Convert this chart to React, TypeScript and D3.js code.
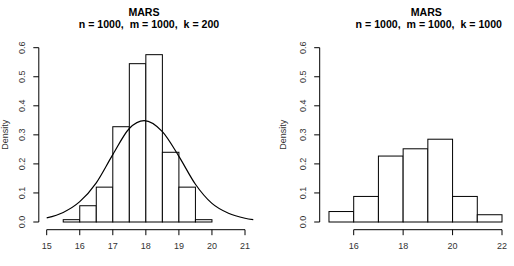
import React from "react";
import * as d3 from "d3";

// ---- data ----
const leftTitle = "MARS";
const leftSubtitle = "n = 1000,  m = 1000,  k = 200";
const rightTitle = "MARS";
const rightSubtitle = "n = 1000,  m = 1000,  k = 1000";
const yLabel = "Density";

const leftBreaks = [15.5, 16, 16.5, 17, 17.5, 18, 18.5, 19, 19.5, 20];
const leftDensity = [0.008, 0.056, 0.12, 0.328, 0.545, 0.576, 0.24, 0.12, 0.008];

const rightBreaks = [15, 16, 17, 18, 19, 20, 21, 22];
const rightDensity = [0.036, 0.088, 0.227, 0.252, 0.285, 0.088, 0.025];

// normal-density curve
const curveX = [15.0, 15.5, 16, 16.5, 17, 17.5, 17.95, 18.5, 19, 19.5, 20, 20.5, 21, 21.25];
const curveY = [0.014, 0.033, 0.07, 0.135, 0.232, 0.322, 0.349, 0.311, 0.226, 0.13, 0.064, 0.03, 0.013, 0.008];

const leftXTicks = [15, 16, 17, 18, 19, 20, 21];
const rightXTicks = [16, 18, 20, 22];
const yTicks = [0, 0.1, 0.2, 0.3, 0.4, 0.5, 0.6];

const FONT = "'Liberation Sans', Arial, Helvetica, sans-serif";

type PanelProps = {
  xScale: d3.ScaleLinear<number, number>;
  yAxisX: number;
  xAxisY: number;
  breaks: number[];
  density: number[];
  xTicks: number[];
  title: string;
  subtitle: string;
  titleX: number;
  subtitleX: number;
  ylabX: number;
  curve?: boolean;
};

const yScale = d3.scaleLinear().domain([0, 0.6]).range([222, 47.7]);

function Panel(p: PanelProps) {
  const { xScale, yAxisX, xAxisY, breaks, density, xTicks } = p;
  const tick = 5.5;
  const lineGen = d3
    .line<number>()
    .x((_, i) => xScale(curveX[i]))
    .y((d) => yScale(d))
    .curve(d3.curveMonotoneX);
  return (
    <g>
      <text x={p.titleX} y={15.7} textAnchor="middle" fontFamily={FONT} fontWeight="bold" fontSize={10.6} fill="#000">
        {p.title}
      </text>
      <text x={p.subtitleX} y={28.4} textAnchor="middle" fontFamily={FONT} fontWeight="bold" fontSize={10.6} fill="#000" style={{ whiteSpace: "pre" }}>
        {p.subtitle}
      </text>
      {density.map((d, i) => (
        <rect
          key={i}
          x={xScale(breaks[i])}
          y={yScale(d)}
          width={xScale(breaks[i + 1]) - xScale(breaks[i])}
          height={yScale(0) - yScale(d)}
          fill="white"
          stroke="#000"
          strokeWidth={1}
        />
      ))}
      {p.curve && <path d={lineGen(curveY) || ""} fill="none" stroke="#000" strokeWidth={1.2} />}
      {/* y axis */}
      <line x1={yAxisX} x2={yAxisX} y1={yScale(0)} y2={yScale(0.6)} stroke="#000" strokeWidth={1} />
      {yTicks.map((t) => (
        <g key={t}>
          <line x1={yAxisX - tick} x2={yAxisX} y1={yScale(t)} y2={yScale(t)} stroke="#000" strokeWidth={1} />
          <text
            transform={`translate(${yAxisX - 16.5},${yScale(t)}) rotate(-90)`}
            textAnchor="middle"
            dy="0.35em"
            fontFamily={FONT}
            fontSize={9}
            fill="#333"
          >
            {t.toFixed(1)}
          </text>
        </g>
      ))}
      <text
        transform={`translate(${p.ylabX},${(yScale(0) + yScale(0.6)) / 2}) rotate(-90)`}
        textAnchor="middle"
        dy="0.35em"
        fontFamily={FONT}
        fontSize={9}
        fill="#333"
      >
        {yLabel}
      </text>
      {/* x axis */}
      <line x1={xScale(xTicks[0])} x2={xScale(xTicks[xTicks.length - 1])} y1={xAxisY} y2={xAxisY} stroke="#000" strokeWidth={1} />
      {xTicks.map((t) => (
        <g key={t}>
          <line x1={xScale(t)} x2={xScale(t)} y1={xAxisY} y2={xAxisY + tick} stroke="#000" strokeWidth={1} />
          <text x={xScale(t)} y={xAxisY + 16} dy="0.35em" textAnchor="middle" fontFamily={FONT} fontSize={9} fill="#333">
            {t}
          </text>
        </g>
      ))}
    </g>
  );
}

export default function App() {
  const leftX = d3.scaleLinear().domain([15, 21]).range([46.7, 245]);
  const rightX = d3.scaleLinear().domain([16, 22]).range([353.7, 502]);
  return (
    <svg width={514} height={266} style={{ position: "absolute", left: 0, top: 0, background: "white" }}>
      <rect x={0} y={0} width={514} height={266} fill="white" />
      <Panel
        xScale={leftX}
        yAxisX={38.8}
        xAxisY={229.7}
        breaks={leftBreaks}
        density={leftDensity}
        xTicks={leftXTicks}
        title={leftTitle}
        subtitle={leftSubtitle}
        titleX={144}
        subtitleX={149}
        ylabX={4.5}
        curve
      />
      <Panel
        xScale={rightX}
        yAxisX={319.7}
        xAxisY={229.7}
        breaks={rightBreaks}
        density={rightDensity}
        xTicks={rightXTicks}
        title={rightTitle}
        subtitle={rightSubtitle}
        titleX={426.3}
        subtitleX={428.8}
        ylabX={282.7}
      />
    </svg>
  );
}
